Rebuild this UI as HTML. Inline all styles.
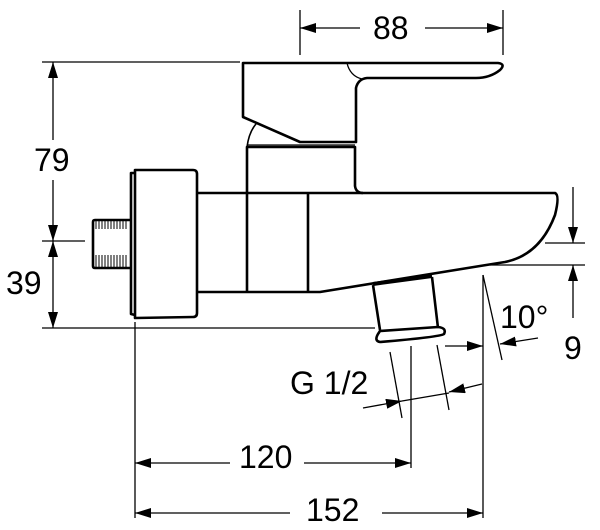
<!DOCTYPE html>
<html><head><meta charset="utf-8"><style>
html,body{margin:0;padding:0;background:#fff;}
svg{display:block;}
text{font-family:"Liberation Sans",Arial,sans-serif;font-size:32px;fill:#000;}
</style></head><body>
<svg width="600" height="530" viewBox="0 0 600 530" xmlns="http://www.w3.org/2000/svg">
<defs>
<marker id="a" viewBox="0 0 16 10" refX="16" refY="5" markerWidth="16" markerHeight="10" markerUnits="userSpaceOnUse" orient="auto-start-reverse"><path d="M0,0 L16,5 L0,10 z" fill="#000"/></marker>
</defs>
<g stroke="#000" stroke-width="1.3" fill="none">
<line x1="300" y1="10" x2="300" y2="55"/><line x1="503" y1="10" x2="503" y2="55"/>
<line x1="300" y1="28" x2="360" y2="28" marker-start="url(#a)"/>
<line x1="425" y1="28" x2="503" y2="28" marker-end="url(#a)"/>
<line x1="42" y1="62" x2="240" y2="62"/>
<line x1="42" y1="241" x2="85" y2="241"/>
<line x1="42" y1="328" x2="375" y2="328"/>
<line x1="53" y1="62" x2="53" y2="140" marker-start="url(#a)"/>
<line x1="53" y1="180" x2="53" y2="241" marker-end="url(#a)"/>
<line x1="53" y1="241" x2="53" y2="328" marker-start="url(#a)" marker-end="url(#a)"/>
<line x1="135" y1="322" x2="135" y2="518"/>
<line x1="411" y1="346" x2="411" y2="468"/>
<line x1="483" y1="275" x2="483" y2="518"/>
<line x1="135" y1="463" x2="230" y2="463" marker-start="url(#a)"/>
<line x1="304" y1="463" x2="411" y2="463" marker-end="url(#a)"/>
<line x1="135" y1="513" x2="290" y2="513" marker-start="url(#a)"/>
<line x1="382" y1="513" x2="483" y2="513" marker-end="url(#a)"/>
<line x1="545" y1="243" x2="585" y2="243"/>
<line x1="490" y1="265" x2="585" y2="265"/>
<line x1="573" y1="187" x2="573" y2="243" marker-end="url(#a)"/>
<line x1="573" y1="265" x2="573" y2="318" marker-start="url(#a)"/>
<line x1="483" y1="275" x2="502" y2="360"/>
<line x1="445" y1="346" x2="483" y2="346" marker-end="url(#a)"/>
<line x1="538" y1="338" x2="500" y2="344" marker-end="url(#a)"/>
<line x1="390" y1="352" x2="402" y2="418"/>
<line x1="437" y1="345" x2="449" y2="410"/>
<line x1="363" y1="408" x2="402" y2="401" marker-end="url(#a)"/>
<line x1="402" y1="401" x2="449" y2="393"/>
<line x1="482" y1="384" x2="449" y2="392" marker-end="url(#a)"/>
</g>
<g stroke="#000" stroke-width="2.6" fill="none" stroke-linejoin="round">
<path d="M243,63 L498,63 Q506,64 500,70 Q490,78 476,78 L367,78 Q358,79 356,88 L356,142 L300,142 L243,117 Z"/>
<path d="M347,63 Q350,76 362,79" stroke-width="1.3"/>
<path d="M247,193 L247,147 L355,147 L355,186 Q356,193 363,193"/>
<path d="M247,147 Q249,132 256,124" stroke-width="1.6"/>
<line x1="247" y1="145" x2="355" y2="145" stroke-width="1.3"/>
<path d="M197,193 L555,193 Q560,195 555,215 Q540,255 505,262 L480,266 L320,292 L197,292"/>
<line x1="247" y1="193" x2="247" y2="292"/>
<line x1="308" y1="193" x2="308" y2="292"/>
<path d="M135,170 L193,170 Q197,170 197,174 L197,313 Q197,317 193,317 L135,318 Z"/>
<path d="M135,173 L131,173 L131,314 L135,315"/>
<path d="M130,220 L95,220 Q93,220 93,222 L93,266 Q93,268 95,268 L130,268"/>
<path d="M373,285 L380,330 M432,277 L438,328"/>
<path d="M380,331 L438,327 Q447,328 444,334 Q440,337 380,342 Q374,341 378,334 Z"/>
<line x1="373" y1="284" x2="432" y2="276" stroke-width="4"/>
</g>
<g stroke="#000" stroke-width="1">
<path d="M96,221v8M99,221v8M102,221v8M105,221v8M108,221v8M111,221v8M114,221v8M117,221v8M120,221v8M123,221v8M126,221v8M96,255v12M99,255v12M102,255v12M105,255v12M108,255v12M111,255v12M114,255v12M117,255v12M120,255v12M123,255v12M126,255v12"/>
</g>
<text x="373" y="39">88</text>
<text x="34" y="171">79</text>
<text x="6" y="294">39</text>
<text x="239" y="468">120</text>
<text x="306" y="521">152</text>
<text x="290" y="394">G 1/2</text>
<text x="500" y="328">10°</text>
<text x="564" y="359">9</text>
</svg>
</body></html>
